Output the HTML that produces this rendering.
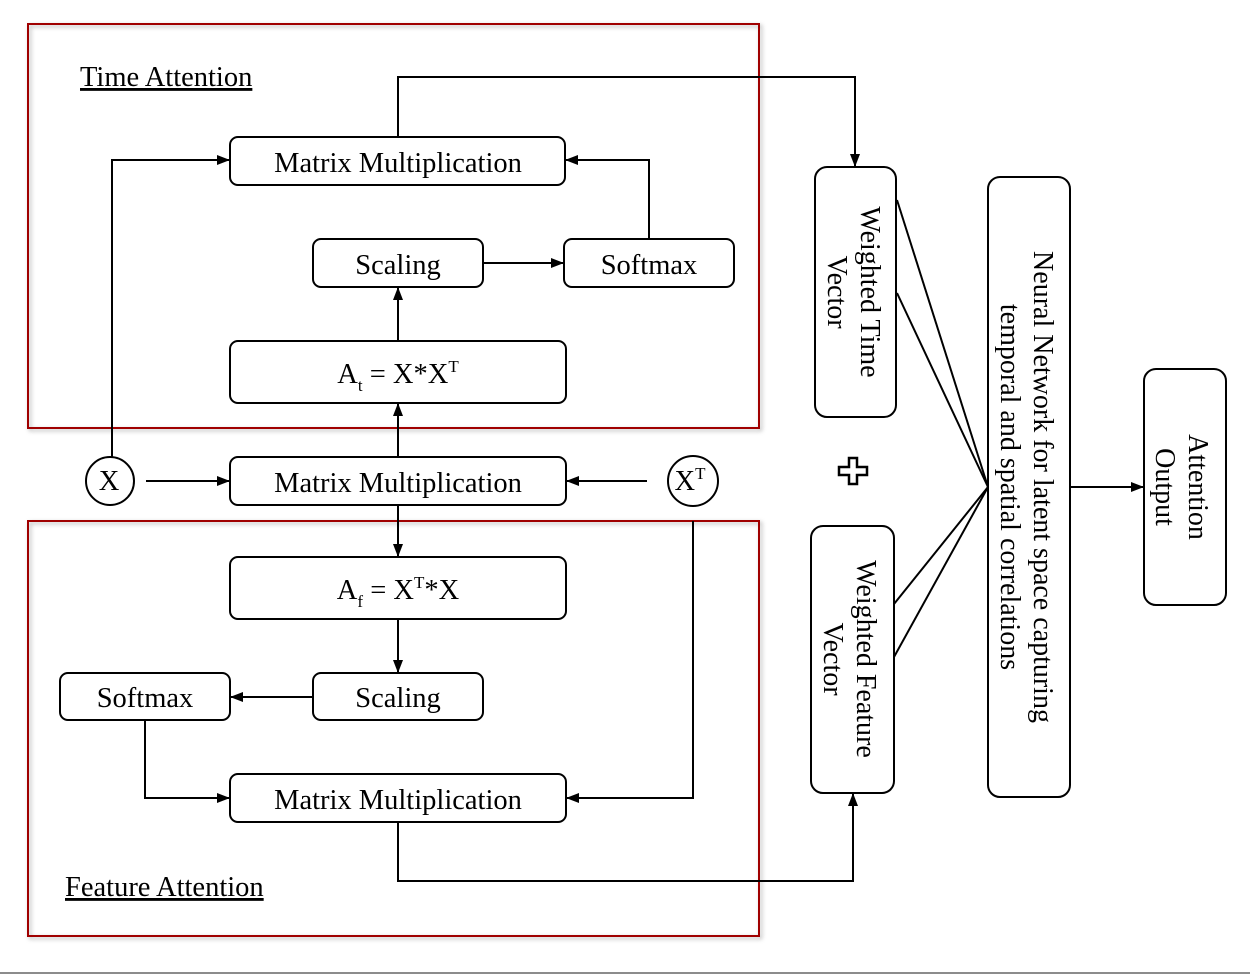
<!DOCTYPE html>
<html><head><meta charset="utf-8"><style>
html,body{margin:0;padding:0;background:#fff;}
svg{display:block;}
text{font-family:"Liberation Serif",serif;fill:#000;}
</style></head><body>
<svg width="1250" height="976" viewBox="0 0 1250 976" xmlns="http://www.w3.org/2000/svg">
<defs>
<marker id="a" markerWidth="13" markerHeight="10" refX="12" refY="5" orient="auto" markerUnits="userSpaceOnUse">
<path d="M0,0 L13,5 L0,10 Z" fill="#000"/></marker>
<filter id="sh" x="-5%" y="-5%" width="110%" height="110%"><feDropShadow dx="2" dy="2" stdDeviation="2" flood-color="#000" flood-opacity="0.3"/></filter>
</defs>
<rect x="28" y="24" width="731" height="404" fill="none" stroke="#a00000" stroke-width="2" filter="url(#sh)"/>
<rect x="28" y="521" width="731" height="415" fill="none" stroke="#a00000" stroke-width="2" filter="url(#sh)"/>

<g fill="none" stroke="#000" stroke-width="2">
<rect x="230" y="137" width="335" height="48" rx="8"/>
<rect x="313" y="239" width="170" height="48" rx="8"/>
<rect x="564" y="239" width="170" height="48" rx="8"/>
<rect x="230" y="341" width="336" height="62" rx="8"/>
<rect x="230" y="457" width="336" height="48" rx="8"/>
<circle cx="110" cy="481" r="24"/>
<circle cx="693" cy="481" r="25"/>
<rect x="230" y="557" width="336" height="62" rx="8"/>
<rect x="60" y="673" width="170" height="47" rx="8"/>
<rect x="313" y="673" width="170" height="47" rx="8"/>
<rect x="230" y="774" width="336" height="48" rx="8"/>
<rect x="815" y="167" width="81" height="250" rx="12"/>
<rect x="811" y="526" width="83" height="267" rx="12"/>
<rect x="988" y="177" width="82" height="620" rx="12"/>
<rect x="1144" y="369" width="82" height="236" rx="12"/>

<polyline points="398,137 398,77 855,77 855,166" marker-end="url(#a)"/>
<polyline points="398,822 398,881 853,881 853,794" marker-end="url(#a)"/>
<polyline points="112,457 112,160 229,160" marker-end="url(#a)"/>
<line x1="146" y1="481" x2="229" y2="481" marker-end="url(#a)"/>
<line x1="647" y1="481" x2="567" y2="481" marker-end="url(#a)"/>
<polyline points="693,521 693,798 567,798" marker-end="url(#a)"/>
<line x1="398" y1="457" x2="398" y2="404" marker-end="url(#a)"/>
<line x1="398" y1="341" x2="398" y2="288" marker-end="url(#a)"/>
<line x1="483" y1="263" x2="563" y2="263" marker-end="url(#a)"/>
<polyline points="649,239 649,160 566,160" marker-end="url(#a)"/>
<line x1="398" y1="505" x2="398" y2="556" marker-end="url(#a)"/>
<line x1="398" y1="619" x2="398" y2="672" marker-end="url(#a)"/>
<line x1="313" y1="697" x2="231" y2="697" marker-end="url(#a)"/>
<polyline points="145,720 145,798 229,798" marker-end="url(#a)"/>
<line x1="1070" y1="487" x2="1143" y2="487" marker-end="url(#a)"/>
<line x1="897" y1="200" x2="988" y2="487"/>
<line x1="897" y1="293" x2="988" y2="487"/>
<line x1="894" y1="604" x2="988" y2="487"/>
<line x1="894" y1="657" x2="988" y2="487"/>
<path d="M849,458 h8 v9 h10 v8 h-10 v9 h-8 v-9 h-10 v-8 h10 Z" stroke-width="2.5"/>
</g>
<line x1="0" y1="973" x2="1250" y2="973" stroke="#666" stroke-width="1.5"/>

<g font-size="28.5">
<text x="80" y="86" text-decoration="underline">Time Attention</text>
<text x="65" y="896" text-decoration="underline">Feature Attention</text>
</g>
<g font-size="28.5" text-anchor="middle">
<text x="398" y="172">Matrix Multiplication</text>
<text x="398" y="274">Scaling</text>
<text x="649" y="274">Softmax</text>
<text x="398" y="383">A<tspan font-size="17" dy="8">t</tspan><tspan dy="-8"> = X*X</tspan><tspan font-size="17" dy="-11">T</tspan></text>
<text x="398" y="492">Matrix Multiplication</text>
<text x="109" y="490">X</text>
<text x="690" y="490">X<tspan font-size="17" dy="-11">T</tspan></text>
<text x="398" y="599">A<tspan font-size="17" dy="8">f</tspan><tspan dy="-8"> = X</tspan><tspan font-size="17" dy="-11">T</tspan><tspan dy="11">*X</tspan></text>
<text x="145" y="707">Softmax</text>
<text x="398" y="707">Scaling</text>
<text x="398" y="809">Matrix Multiplication</text>
</g>
<g font-size="28" text-anchor="middle">
<text transform="translate(861,292) rotate(90)">Weighted Time</text>
<text transform="translate(828,292) rotate(90)">Vector</text>
<text transform="translate(857,659) rotate(90)">Weighted Feature</text>
<text transform="translate(824,659) rotate(90)">Vector</text>
<text transform="translate(1034,487) rotate(90)">Neural Network for latent space capturing</text>
<text transform="translate(1001,487) rotate(90)">temporal and spatial correlations</text>
<text transform="translate(1189,487) rotate(90)">Attention</text>
<text transform="translate(1156,487) rotate(90)">Output</text>
</g>
</svg>
</body></html>
